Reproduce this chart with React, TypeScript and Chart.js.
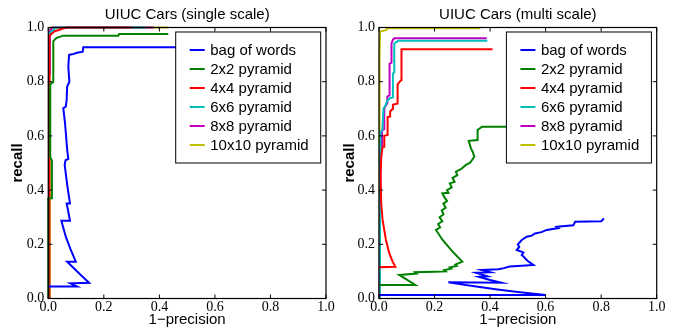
import React, { useEffect, useRef } from 'react';
import { Chart, registerables } from 'chart.js';

Chart.register(...registerables);

// ---------- labels ----------
const SERIES_NAMES = ['bag of words', '2x2 pyramid', '4x4 pyramid', '6x6 pyramid', '8x8 pyramid', '10x10 pyramid'];
const SERIES_COLORS = ['#0000ff', '#008000', '#ff0000', '#00bfbf', '#bf00bf', '#bfbf00'];
const AXIS_TICKS = [0, 0.2, 0.4, 0.6, 0.8, 1.0];
const AXIS_TICK_LABELS = ['0.0', '0.2', '0.4', '0.6', '0.8', '1.0'];
const TITLE_SINGLE = 'UIUC Cars (single scale)';
const TITLE_MULTI = 'UIUC Cars (multi scale)';
const X_LABEL = '1\u2212precision';
const Y_LABEL = 'recall';

// ---------- single scale (x = 1-precision, y = recall) ----------
const singleBagOfWords = [
  [0, 0.044], [0.104, 0.044], [0.08, 0.056], [0.147, 0.058], [0.117, 0.087], [0.093, 0.111],
  [0.068, 0.136], [0.099, 0.136], [0.081, 0.179], [0.063, 0.228], [0.047, 0.287], [0.078, 0.287],
  [0.072, 0.32], [0.066, 0.351], [0.078, 0.351], [0.068, 0.42], [0.059, 0.493], [0.062, 0.51],
  [0.072, 0.515], [0.068, 0.548], [0.064, 0.6], [0.06, 0.65], [0.054, 0.702], [0.063, 0.708],
  [0.066, 0.732], [0.068, 0.782], [0.076, 0.8], [0.072, 0.855], [0.075, 0.899], [0.086, 0.901],
  [0.104, 0.907], [0.124, 0.911], [0.126, 0.927], [0.6, 0.927],
];
const singleTwoByTwo = [
  [0, 0], [0, 0.37], [0.013, 0.37], [0.013, 0.51], [0.007, 0.52], [0.007, 0.79], [0.018, 0.8],
  [0.018, 0.95], [0.03, 0.962], [0.054, 0.97], [0.252, 0.97], [0.255, 0.976], [0.432, 0.976],
];
const singleFourByFour = [
  [0.004, 0], [0.004, 0.97], [0.015, 0.98], [0.025, 0.987], [0.035, 0.99], [0.05, 0.995], [0.065, 1.0], [0.3, 1.0],
];
const singleSixBySix = [
  [0.003, 0], [0.003, 0.975], [0.01, 0.985], [0.02, 0.992], [0.025, 1.0], [0.35, 1.0],
];
const singleEightByEight = [
  [0.002, 0], [0.002, 0.82], [0.006, 0.83], [0.006, 0.99], [0.015, 1.0], [0.38, 1.0],
];
const singleTenByTen = [
  [0.005, 0], [0.005, 0.99], [0.01, 1.0], [0.43, 1.0],
];

// ---------- multi scale ----------
const multiBagOfWords = [
  [0, 0.013], [0.6, 0.013], [0.5, 0.024], [0.42, 0.034], [0.35, 0.044], [0.29, 0.053], [0.25, 0.06],
  [0.44, 0.058], [0.4, 0.068], [0.36, 0.08], [0.39, 0.082], [0.35, 0.095], [0.4, 0.097], [0.37, 0.105],
  [0.43, 0.108], [0.45, 0.112], [0.47, 0.118], [0.5, 0.12], [0.556, 0.124], [0.54, 0.135], [0.532, 0.142],
  [0.52, 0.155], [0.514, 0.16], [0.52, 0.17], [0.496, 0.179], [0.505, 0.19], [0.5, 0.2], [0.514, 0.216],
  [0.532, 0.228], [0.55, 0.232], [0.562, 0.24], [0.585, 0.245], [0.604, 0.253], [0.646, 0.26],
  [0.64, 0.265], [0.7, 0.27], [0.706, 0.283], [0.8, 0.285], [0.81, 0.295],
];
const multiTwoByTwo = [
  [0, 0.05], [0.131, 0.05], [0.073, 0.087], [0.135, 0.092], [0.13, 0.097], [0.2, 0.099], [0.24, 0.1],
  [0.235, 0.105], [0.26, 0.11], [0.255, 0.115], [0.28, 0.12], [0.275, 0.125], [0.3, 0.136],
  [0.265, 0.173], [0.229, 0.216], [0.205, 0.253], [0.22, 0.262], [0.213, 0.275], [0.228, 0.285],
  [0.218, 0.3], [0.232, 0.31], [0.226, 0.325], [0.24, 0.335], [0.232, 0.35], [0.245, 0.36],
  [0.235, 0.375], [0.228, 0.388], [0.25, 0.39], [0.245, 0.4], [0.262, 0.41], [0.255, 0.425],
  [0.272, 0.43], [0.265, 0.445], [0.282, 0.455], [0.277, 0.468], [0.295, 0.477], [0.313, 0.493],
  [0.328, 0.501], [0.343, 0.523], [0.338, 0.54], [0.331, 0.554], [0.323, 0.582], [0.355, 0.585],
  [0.355, 0.622], [0.371, 0.634], [0.62, 0.634],
];
const multiFourByFour = [
  [0, 0.115], [0.059, 0.117], [0.049, 0.136], [0.037, 0.167], [0.025, 0.216], [0.013, 0.29],
  [0.008, 0.35], [0.006, 0.45], [0.008, 0.52], [0.013, 0.56], [0.019, 0.56], [0.019, 0.6],
  [0.031, 0.603], [0.031, 0.67], [0.04, 0.671], [0.04, 0.69], [0.05, 0.7], [0.05, 0.715],
  [0.067, 0.72], [0.067, 0.79], [0.075, 0.8], [0.08, 0.806], [0.081, 0.92], [0.409, 0.92],
];
const multiSixBySix = [
  [0.003, 0], [0.005, 0.615], [0.012, 0.62], [0.016, 0.7], [0.022, 0.71], [0.03, 0.73], [0.04, 0.74],
  [0.05, 0.742], [0.05, 0.83], [0.055, 0.835], [0.055, 0.94], [0.06, 0.945], [0.07, 0.951], [0.39, 0.951],
];
const multiEightByEight = [
  [0.002, 0], [0.004, 0.55], [0.011, 0.555], [0.011, 0.62], [0.019, 0.625], [0.019, 0.7], [0.025, 0.714],
  [0.03, 0.72], [0.03, 0.745], [0.038, 0.75], [0.038, 0.866], [0.045, 0.87], [0.045, 0.94],
  [0.05, 0.955], [0.055, 0.96], [0.388, 0.96],
];
const multiTenByTen = [
  [0, 0], [0.002, 0.9], [0.004, 0.985], [0.025, 0.99], [0.03, 0.997], [0.365, 0.997],
];

const SINGLE_SERIES = [singleBagOfWords, singleTwoByTwo, singleFourByFour, singleSixBySix, singleEightByEight, singleTenByTen];
const MULTI_SERIES = [multiBagOfWords, multiTwoByTwo, multiFourByFour, multiSixBySix, multiEightByEight, multiTenByTen];

const SANS = "'Liberation Sans', Arial, sans-serif";
const SERIF = "'Liberation Serif', 'Times New Roman', serif";

function makeDecor(title: string) {
  return {
    id: 'mplDecor',
    afterDatasetsDraw(chart: any) {
      const { ctx, chartArea: a, scales } = chart;
      ctx.save();
      // frame
      ctx.strokeStyle = '#000';
      ctx.lineWidth = 1.2;
      ctx.strokeRect(a.left, a.top, a.right - a.left, a.bottom - a.top);
      // inward ticks on all sides
      ctx.lineWidth = 1;
      const tl = 4;
      AXIS_TICKS.forEach((v) => {
        const px = scales.x.getPixelForValue(v);
        const py = scales.y.getPixelForValue(v);
        ctx.beginPath();
        ctx.moveTo(px, a.bottom); ctx.lineTo(px, a.bottom - tl);
        ctx.moveTo(px, a.top); ctx.lineTo(px, a.top + tl);
        ctx.moveTo(a.left, py); ctx.lineTo(a.left + tl, py);
        ctx.moveTo(a.right, py); ctx.lineTo(a.right - tl, py);
        ctx.stroke();
      });
      // legend
      const bw = 145;
      const bh = 131;
      const bx = a.right - 5.3 - bw;
      const by = a.top + 4.5;
      ctx.fillStyle = '#fff';
      ctx.fillRect(bx, by, bw, bh);
      ctx.strokeStyle = '#000';
      ctx.lineWidth = 1;
      ctx.strokeRect(bx, by, bw, bh);
      ctx.font = `15px ${SANS}`;
      ctx.textBaseline = 'middle';
      ctx.textAlign = 'left';
      SERIES_NAMES.forEach((name, i) => {
        const y = by + 18 + i * 19;
        ctx.strokeStyle = SERIES_COLORS[i];
        ctx.lineWidth = 2;
        ctx.beginPath();
        ctx.moveTo(bx + 14, y);
        ctx.lineTo(bx + 29, y);
        ctx.stroke();
        ctx.fillStyle = '#000';
        ctx.fillText(name, bx + 34.5, y + 0.5);
      });
      // title
      ctx.textAlign = 'center';
      ctx.textBaseline = 'alphabetic';
      ctx.font = `15px ${SANS}`;
      ctx.fillText(title, (a.left + a.right) / 2, 18.5);
      ctx.restore();
    },
  };
}

type Props = {
  title: string;
  series: number[][][];
  left: number;
  width: number;
  yAxisWidth: number;
  padRight: number;
  yTitlePad: number;
};

function PRChart({ title, series, left, width, yAxisWidth, padRight, yTitlePad }: Props) {
  const ref = useRef<HTMLCanvasElement>(null);
  useEffect(() => {
    if (!ref.current) return;
    const chart = new Chart(ref.current, {
      type: 'line',
      data: {
        datasets: series.map((pts, i) => ({
          label: SERIES_NAMES[i],
          data: pts.map(([x, y]) => ({ x, y })),
          borderColor: SERIES_COLORS[i],
          backgroundColor: SERIES_COLORS[i],
          borderWidth: 2,
          pointRadius: 0,
          fill: false,
          tension: 0,
          clip: 3,
        })),
      },
      options: {
        animation: false,
        responsive: false,
        events: [],
        layout: { padding: { left: 0, right: padRight, top: 27.5, bottom: 0 } },
        plugins: { legend: { display: false }, tooltip: { enabled: false }, title: { display: false } },
        scales: {
          x: {
            type: 'linear',
            min: 0,
            max: 1,
            afterBuildTicks: (s: any) => { s.ticks = AXIS_TICKS.map((v) => ({ value: v })); },
            afterFit: (s: any) => { s.height = 34.5; },
            grid: { display: false, drawTicks: false },
            border: { display: false },
            ticks: {
              autoSkip: false,
              maxRotation: 0,
              padding: 0,
              color: '#000',
              font: { family: SERIF, size: 14 },
              callback: (_v: any, i: number) => AXIS_TICK_LABELS[i],
            },
            title: {
              display: true,
              text: X_LABEL,
              color: '#000',
              font: { family: SANS, size: 15 },
              padding: { top: 0, bottom: 4.5 },
            },
          },
          y: {
            type: 'linear',
            min: 0,
            max: 1,
            afterBuildTicks: (s: any) => { s.ticks = AXIS_TICKS.map((v) => ({ value: v })); },
            afterFit: (s: any) => { s.width = yAxisWidth; },
            grid: { display: false, drawTicks: false },
            border: { display: false },
            ticks: {
              autoSkip: false,
              padding: 4,
              color: '#000',
              font: { family: SERIF, size: 14 },
              callback: (_v: any, i: number) => AXIS_TICK_LABELS[i],
            },
            title: {
              display: true,
              text: Y_LABEL,
              color: '#000',
              font: { family: SANS, size: 15, weight: 'bold' },
              padding: { top: yTitlePad, bottom: 0 },
            },
          },
        },
      },
      plugins: [makeDecor(title)],
    } as any);
    return () => chart.destroy();
  }, []);
  return (
    <canvas
      ref={ref}
      width={width}
      height={333}
      style={{ position: 'absolute', left, top: 0, width, height: 333 }}
    />
  );
}

export default function App() {
  return (
    <div style={{ position: 'absolute', left: 0, top: 0, width: 685, height: 333, background: '#fff' }}>
      <PRChart title={TITLE_SINGLE} series={SINGLE_SERIES} left={0} width={336} yAxisWidth={48.3} padRight={10} yTitlePad={8.5} />
      <PRChart title={TITLE_MULTI} series={MULTI_SERIES} left={336} width={349} yAxisWidth={43} padRight={28.3} yTitlePad={4.5} />
    </div>
  );
}
